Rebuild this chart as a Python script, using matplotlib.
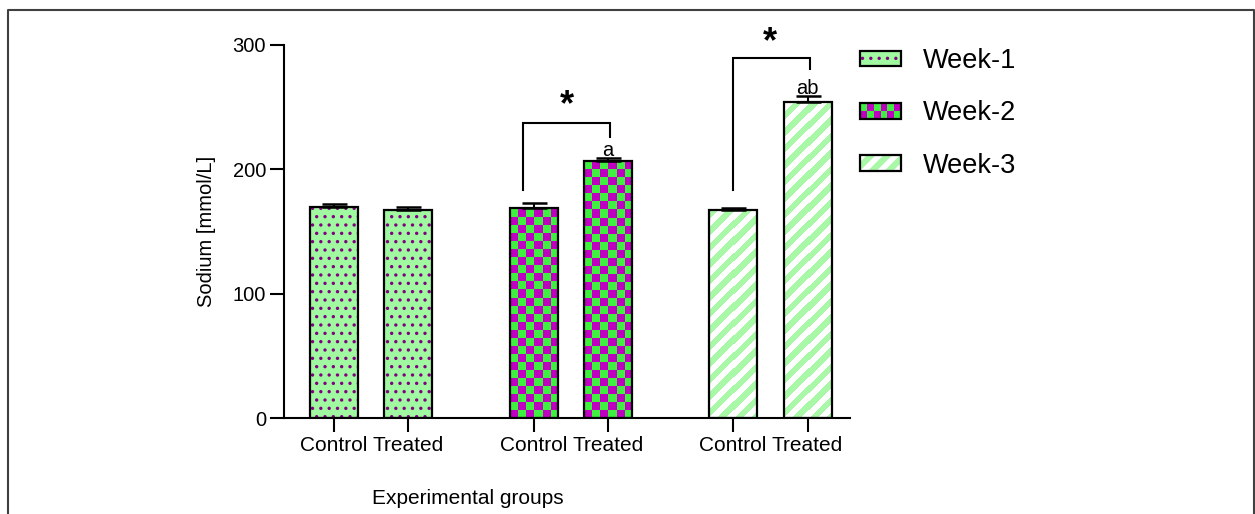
import matplotlib
matplotlib.use("Agg")
import matplotlib.pyplot as plt
import numpy as np
from matplotlib.patches import Rectangle, Polygon
from matplotlib.lines import Line2D
from matplotlib.legend_handler import HandlerBase

plt.rcParams['font.family'] = ['Liberation Sans', 'DejaVu Sans']

# data
weeks = ["Week-1", "Week-2", "Week-3"]
tick_labels = ["Control", "Treated", "Control", "Treated", "Control", "Treated"]
means = [169.5, 167.0, 169.0, 207.0, 167.0, 254.0]
errs = [2.5, 2.5, 4.0, 2.0, 1.5, 5.0]
letters = ["", "", "", "a", "", "ab"]

# styles
wk1_face = "#a0f8a0"
wk1_dot = "#800080"
wk2_a = "#40f040"
wk2_b = "#c000c0"
wk3_face = "#a8f8a8"

pos = np.array([0, 1, 2.68, 3.68, 5.36, 6.36])
bw = 0.645

fig = plt.figure(figsize=(12.55, 5.14), dpi=100)
ax = fig.add_axes([284 / 1255, 96 / 514, 566 / 1255, 373 / 514])

AX_H = 373  # axes height in px
BAR_PX = 48  # bar width in px


def hatch_lw(p, lw):
    if hasattr(p, "set_hatch_linewidth"):
        p.set_hatch_linewidth(lw)


def fill_image(bars, xs, img, cmap):
    for p, x in zip(bars, xs):
        im = ax.imshow(img, cmap=cmap, extent=[x - bw / 2, x + bw / 2, 0, 300],
                       origin="lower", aspect="auto", interpolation="nearest", zorder=2.5)
        im.set_clip_path(p)


# week 1: dotted
b1 = ax.bar(pos[0:2], means[0:2], bw, color=wk1_face, edgecolor=wk1_dot,
            hatch="..", linewidth=0, zorder=2)
for p in b1:
    hatch_lw(p, 1.2)

# week 2: checkerboard (8 px cells)
b2 = ax.bar(pos[2:4], means[2:4], bw, color=wk2_a, linewidth=0, zorder=2)
cell = 8
yy, xx = np.mgrid[0:AX_H, 0:BAR_PX]
chk = (((yy // cell) + (xx // cell)) % 2).astype(float)
fill_image(b2, pos[2:4], chk, matplotlib.colors.ListedColormap([wk2_b, wk2_a]))

# week 3: white diagonal stripes
b3 = ax.bar(pos[4:6], means[4:6], bw, color=wk3_face, linewidth=0, zorder=2)
period = 16.5
stripes = (((xx - yy) % period) < period * 0.47).astype(float)
fill_image(b3, pos[4:6], stripes, matplotlib.colors.ListedColormap([wk3_face, "white"]))

ax.set_xlim(-0.671, 6.93)
ax.set_ylim(0, 300)

# outlines + error bars
ax.bar(pos, means, bw, fill=False, edgecolor="black", linewidth=1.6, zorder=3)
ax.errorbar(pos, means, yerr=[np.zeros(len(errs)), errs], fmt="none", ecolor="black",
            elinewidth=1.5, capsize=9, capthick=1.8, zorder=4)


# significance brackets
def bracket(xl, xr, ytop, yl, yr):
    ax.plot([xl, xl, xr, xr], [yl, ytop, ytop, yr], color="black", lw=1.5,
            clip_on=False, zorder=5, solid_joinstyle="miter")


bracket(pos[2] - 0.135, pos[3] + 0.025, 237.6, 183.4, 226.0)
ax.text(pos[3] - 0.55, 243.4, "*", fontsize=26, fontweight="bold",
        ha="center", va="baseline")
bracket(pos[4], pos[5] + 0.03, 289.6, 183.4, 280.8)
ax.text((pos[4] + pos[5]) / 2, 294.4, "*", fontsize=26, fontweight="bold",
        ha="center", va="baseline", clip_on=False)

for x, m, e, t in zip(pos, means, errs, letters):
    if t:
        ax.text(x, m + e + 1.5, t, fontsize=14.5, ha="center", va="baseline")

# axes styling
for s in ["top", "right"]:
    ax.spines[s].set_visible(False)
for s in ["left", "bottom"]:
    ax.spines[s].set_linewidth(1.5)
ax.set_yticks([0, 100, 200, 300])
ax.set_xticks(pos)
ax.set_xticklabels(tick_labels)
ax.tick_params(axis="both", length=10, width=1.5, labelsize=15, pad=3)
ax.tick_params(axis="y", labelsize=14.5)
ax.set_ylabel("Sodium [mmol/L]", fontsize=14.5, labelpad=12)
fig.text(468 / 1255, 1 - 499 / 514, "Experimental groups", fontsize=15,
         ha="center", va="center")


# legend
class FillHandler(HandlerBase):
    def __init__(self, kind):
        super().__init__()
        self.kind = kind

    def create_artists(self, legend, orig_handle, xdescent, ydescent, width, height,
                       fontsize, trans):
        x0, y0 = -xdescent, -ydescent
        arts = []
        if self.kind == "dots":
            r = Rectangle((x0, y0), width, height, facecolor=wk1_face, edgecolor=wk1_dot,
                          hatch="..", linewidth=0, transform=trans)
            hatch_lw(r, 1.2)
            arts.append(r)
        elif self.kind == "checker":
            nc, nr = 6, 2
            cw, ch = width / nc, height / nr
            for i in range(nc):
                for j in range(nr):
                    c = wk2_b if (i + j) % 2 == 0 else wk2_a
                    arts.append(Rectangle((x0 + i * cw, y0 + j * ch), cw, ch, facecolor=c,
                                          edgecolor="none", transform=trans))
        else:
            base = Rectangle((x0, y0), width, height, facecolor=wk3_face,
                             linewidth=0, transform=trans)
            arts.append(base)
            p = width * 16.5 / 41
            for k in range(-2, 5):
                xs = x0 + k * p
                poly = Polygon([(xs, y0), (xs + p * 0.47, y0),
                                (xs + p * 0.47 + height, y0 + height), (xs + height, y0 + height)],
                               closed=True, facecolor="white", edgecolor="none", transform=trans)
                poly.set_clip_path(base)
                arts.append(poly)
        arts.append(Rectangle((x0, y0), width, height, fill=False, edgecolor="black",
                              linewidth=1.6, transform=trans))
        return arts


h1, h2, h3 = Rectangle((0, 0), 1, 1), Rectangle((0, 0), 1, 1), Rectangle((0, 0), 1, 1)
fig.legend([h1, h2, h3], weeks, loc="upper left",
           bbox_to_anchor=(860 / 1255, 1 - 48 / 514), frameon=False, fontsize=19.5,
           handlelength=1.52, handleheight=0.52, handletextpad=0.8, labelspacing=0.97,
           borderpad=0, borderaxespad=0,
           handler_map={h1: FillHandler("dots"), h2: FillHandler("checker"),
                        h3: FillHandler("stripes")})

# outer frame
fig.add_artist(Line2D([8 / 1255, 8 / 1255, 1253.5 / 1255, 1253.5 / 1255],
                      [0, 1 - 10 / 514, 1 - 10 / 514, 0], transform=fig.transFigure,
                      color="#404040", lw=1.5))

fig.savefig("out.png", dpi=100)
